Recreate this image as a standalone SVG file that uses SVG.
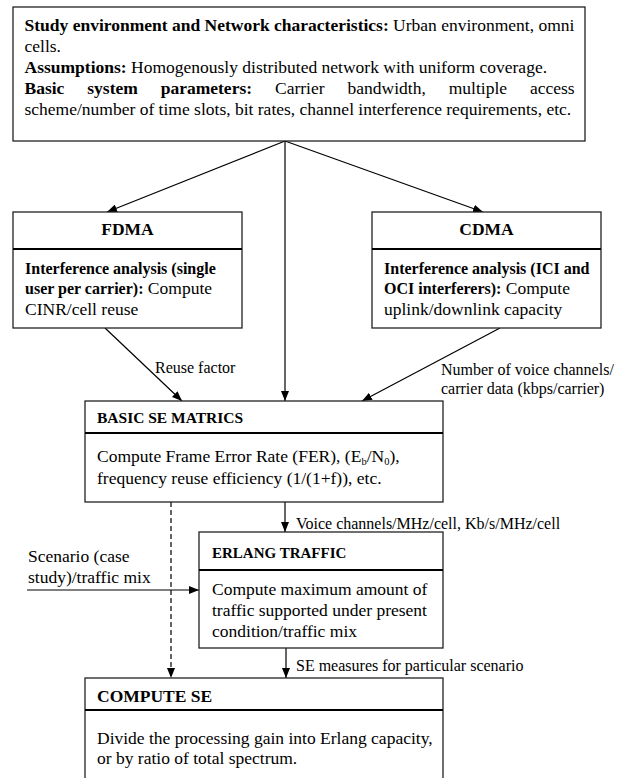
<svg xmlns="http://www.w3.org/2000/svg" width="622" height="778" viewBox="0 0 622 778">
<defs>
<style>
.box{fill:#fff;stroke:#222;stroke-width:1.3}
.div{stroke:#000;stroke-width:2}
.t{font-family:"Liberation Serif","Times New Roman",serif;font-size:17.5px;fill:#000}
.b{font-weight:bold}
.s{font-size:16px}
.lbl{font-family:"Liberation Serif","Times New Roman",serif;font-size:16px;fill:#000}
.con{stroke:#000;stroke-width:1.2;fill:none}
.dash{stroke-dasharray:5,3}
</style>
<marker id="ah" markerWidth="10" markerHeight="8" refX="10" refY="4" orient="auto" markerUnits="userSpaceOnUse">
<path d="M0,0 L10,4 L0,8 z" fill="#000"/>
</marker>
</defs>
<rect width="622" height="778" fill="#fff"/>

<g id="connectors">
<line class="con" x1="285" y1="141" x2="107" y2="212" marker-end="url(#ah)"/>
<line class="con" x1="285" y1="141" x2="285" y2="401" marker-end="url(#ah)"/>
<line class="con" x1="285" y1="141" x2="483" y2="212" marker-end="url(#ah)"/>
<line class="con" x1="105" y1="328" x2="182" y2="401" marker-end="url(#ah)"/>
<line class="con" x1="500" y1="328" x2="362" y2="401" marker-end="url(#ah)"/>
<line class="con" x1="285" y1="502" x2="285" y2="532" marker-end="url(#ah)"/>
<line class="con" x1="286" y1="648" x2="286" y2="678" marker-end="url(#ah)"/>
<line class="con dash" x1="171" y1="502" x2="171" y2="678" marker-end="url(#ah)"/>
<line class="con" x1="27" y1="590" x2="199" y2="590" marker-end="url(#ah)"/>
<text class="lbl" x="155" y="373">Reuse factor</text>
<text class="lbl" x="441" y="375">Number of voice channels/</text>
<text class="lbl" x="441" y="394">carrier data (kbps/carrier)</text>
<text class="lbl" x="296" y="529">Voice channels/MHz/cell, Kb/s/MHz/cell</text>
<text class="lbl" x="296" y="671">SE measures for particular scenario</text>
<text class="t" x="28" y="562">Scenario (case</text>
<text class="t" x="28" y="583">study)/traffic mix</text>
</g>

<g id="study">
<rect class="box" x="13" y="7" width="572" height="134"/>
<text class="t" x="24.5" y="31"><tspan class="b">Study environment and Network characteristics:</tspan> Urban environment, omni</text>
<text class="t" x="24.5" y="52">cells.</text>
<text class="t" x="24.5" y="73"><tspan class="b">Assumptions:</tspan> Homogenously distributed network with uniform coverage.</text>
<text class="t" y="94"><tspan class="b" x="24.5">Basic</tspan><tspan class="b" x="87.3">system</tspan><tspan class="b" x="160.7">parameters:</tspan><tspan x="275">Carrier</tspan><tspan x="347.5">bandwidth,</tspan><tspan x="448.7">multiple</tspan><tspan x="529.9">access</tspan></text>
<text class="t" x="24.5" y="115">scheme/number of time slots, bit rates, channel interference requirements, etc.</text>
</g>

<g id="fdma">
<rect class="box" x="13" y="212" width="229" height="116"/>
<line class="div" x1="13" y1="249" x2="242" y2="249"/>
<text class="t b" x="127.5" y="235" text-anchor="middle">FDMA</text>
<text class="t" x="25" y="274"><tspan class="b s">Interference analysis (single</tspan></text>
<text class="t" x="25" y="294"><tspan class="b s">user per carrier):</tspan> Compute</text>
<text class="t" x="25" y="315">CINR/cell reuse</text>
</g>

<g id="cdma">
<rect class="box" x="372" y="212" width="229" height="116"/>
<line class="div" x1="372" y1="249" x2="601" y2="249"/>
<text class="t b" x="486.5" y="235" text-anchor="middle">CDMA</text>
<text class="t" x="384" y="274"><tspan class="b s">Interference analysis (ICI and</tspan></text>
<text class="t" x="384" y="294"><tspan class="b s">OCI interferers):</tspan> Compute</text>
<text class="t" x="384" y="315">uplink/downlink capacity</text>
</g>

<g id="basic">
<rect class="box" x="85" y="401" width="358" height="101"/>
<line class="div" x1="85" y1="433" x2="443" y2="433"/>
<text class="t b" x="97" y="423" style="font-size:15.5px">BASIC SE MATRICS</text>
<text class="t" x="97" y="462">Compute Frame Error Rate (FER), (E<tspan font-size="10.5" dy="2.5">b</tspan><tspan dy="-2.5">/N</tspan><tspan font-size="10.5" dy="2.5">0</tspan><tspan dy="-2.5">),</tspan></text>
<text class="t" x="97" y="484">frequency reuse efficiency (1/(1+f)), etc.</text>
</g>

<g id="erlang">
<rect class="box" x="199" y="532" width="244" height="116"/>
<line class="div" x1="199" y1="570" x2="443" y2="570"/>
<text class="t b" x="212" y="558" style="font-size:15px">ERLANG TRAFFIC</text>
<text class="t" x="212" y="595">Compute maximum amount of</text>
<text class="t" x="212" y="616">traffic supported under present</text>
<text class="t" x="212" y="637">condition/traffic mix</text>
</g>

<g id="compute">
<rect class="box" x="85" y="678" width="358" height="120"/>
<line class="div" x1="85" y1="710" x2="443" y2="710"/>
<text class="t b" x="97" y="702">COMPUTE SE</text>
<text class="t" x="97" y="744">Divide the processing gain into Erlang capacity,</text>
<text class="t" x="97" y="764">or by ratio of total spectrum.</text>
</g>
</svg>
